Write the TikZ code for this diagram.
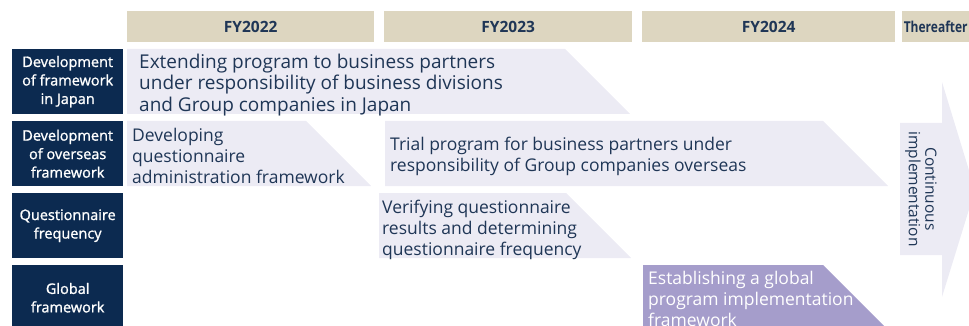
\documentclass[tikz,border=0pt]{standalone}
\usepackage{fontspec}
\setmainfont{Open Sans}
\newfontfamily\condfont[FakeStretch=0.8]{Open Sans}
\newfontfamily\labelfont[FakeBold=1.2]{Open Sans}

\definecolor{headbeige}{HTML}{DDD6C0}
\definecolor{navybox}{HTML}{0C2A50}
\definecolor{navytext}{HTML}{1F3656}
\definecolor{barlight}{HTML}{ECEBF4}
\definecolor{barpurple}{HTML}{A59DCB}

\tikzset{
  yearhead/.style={fill=headbeige, text=navytext, inner sep=0pt, minimum height=31pt,
    anchor=north west, font=\bfseries\fontsize{15.5}{17}\selectfont},
  rowlabel/.style={fill=navybox, text=white, inner sep=0pt, minimum width=111pt,
    minimum height=65pt, anchor=north west, align=center,
    font=\labelfont\fontsize{14.5}{18.5}\selectfont},
  bartext/.style={inner sep=0pt, align=left, text=navytext, anchor=north west,
    font=\fontsize{17.5}{21}\selectfont},
}

\begin{document}
\begin{tikzpicture}[x=1pt,y=-1pt]
    \clip (0,0) rectangle (969,326);

    % Year headers
    \node[yearhead, minimum width=247pt] (fy22) at (127,11) {FY2022};
    \node[yearhead, minimum width=248pt] (fy23) at (384,11) {FY2023};
    \node[yearhead, minimum width=253pt] (fy24) at (642,11) {FY2024};
    \node[yearhead, minimum width=67pt] (later) at (902,11) {\condfont\bfseries\fontsize{15}{17}\selectfont Thereafter};

    % Row labels
    \node[rowlabel] (japan) at (12,49) {Development\\of framework\\in Japan};
    \node[rowlabel] (overseas) at (12,121) {Development\\of overseas\\framework};
    \node[rowlabel] (freq) at (12,193) {Questionnaire\\frequency};
    \node[rowlabel] (global) at (12,265) {Global\\framework};

    % Bars
    \fill[barlight] (127,49) -- (565,49) -- (630,114) -- (127,114) -- cycle;
    \fill[barlight] (127,121) -- (306,121) -- (371,186) -- (127,186) -- cycle;
    \fill[barlight] (385,121) -- (823,121) -- (888,186) -- (385,186) -- cycle;
    \fill[barlight] (379,193) -- (566,193) -- (631,258) -- (379,258) -- cycle;
    \fill[barpurple] (643,265) -- (823,265) -- (888,330) -- (643,330) -- cycle;

    % Continuous arrow
    \fill[barlight] (900,123) -- (942,123) -- (942,82) -- (975,190)
        -- (942,297) -- (942,255) -- (900,255) -- cycle;

    % Bar texts
    \node[bartext, font=\fontsize{19}{21.5}\selectfont] (extend) at (139,53.6)
        {Extending program to business partners\\under responsibility of business divisions\\and Group companies in Japan};
    \node[bartext] (admin) at (132,127.7)
        {Developing\\questionnaire\\administration framework};
    \node[bartext] (trial) at (390,136.7)
        {Trial program for business partners under\\responsibility of Group companies overseas};
    \node[bartext] (verify) at (382,199.5)
        {Verifying questionnaire\\results and determining\\questionnaire frequency};
    \node[bartext, text=white] (globalfw) at (648,271.5)
        {Establishing a global\\program implementation\\framework};
    \node[bartext, anchor=center, rotate=-90, align=center, font=\fontsize{15.5}{16.5}\selectfont] (cont) at (921,189)
        {Continuous\\implementation};
\end{tikzpicture}
\end{document}
